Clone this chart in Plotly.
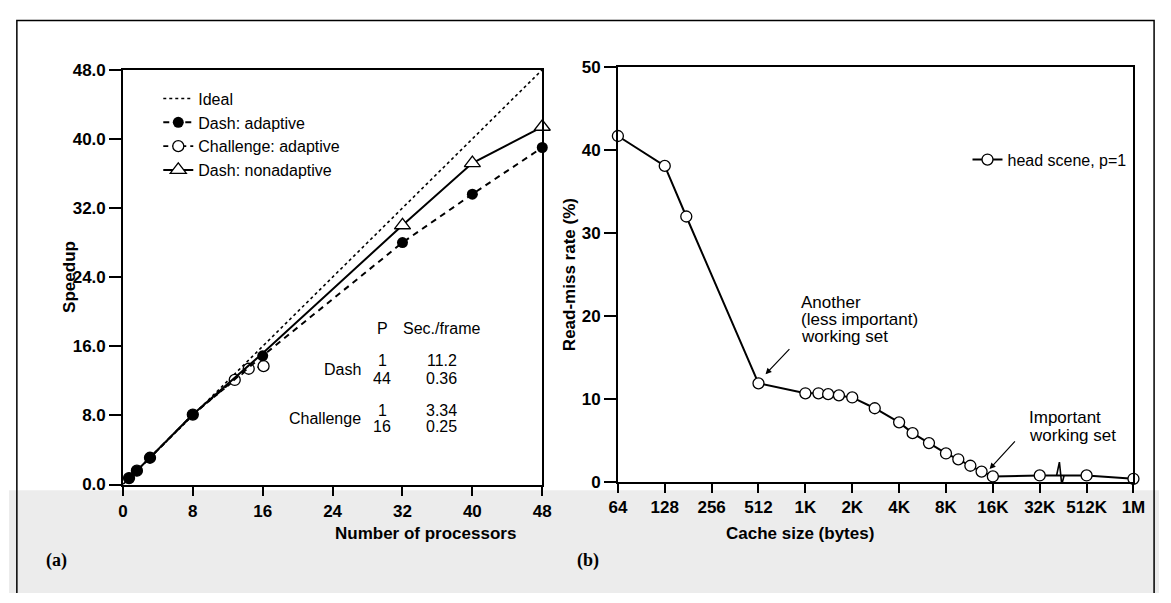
import math
import plotly.graph_objects as go

W, H = 1171, 603

# ---------------- data: (a) speedup ----------------
ideal_p = [0, 48]
ideal_s = [0, 48]

dash_adapt_p = [0.7, 1.6, 3.1, 8, 16, 32, 40, 48]
dash_adapt_s = [0.75, 1.6, 3.1, 8.1, 14.9, 28.0, 33.6, 39.0]

chal_adapt_p = [0.7, 1.6, 3.1, 8, 12.8, 14.4, 16.1]
chal_adapt_s = [0.75, 1.6, 3.1, 8.1, 12.1, 13.4, 13.7]

nonadapt_p = [1, 8, 16, 32, 40, 48]
nonadapt_s = [1, 8.1, 15.2, 30.0, 37.2, 41.4]
nonadapt_first_marked = 3

x_ticks_a = [0, 8, 16, 24, 32, 40, 48]
y_ticks_a = [0, 8, 16, 24, 32, 40, 48]

table_rows = ["Dash", "Challenge"]
table_p = [["1", "44"], ["1", "16"]]
table_sec = [["11.2", "0.36"], ["3.34", "0.25"]]

# ---------------- data: (b) read-miss rate ----------------
cache_bytes = [64, 128, 176, 512, 1024, 1243, 1434, 1682, 2048, 2857, 4096,
               5000, 6370, 8192, 9830, 11750, 13870, 16384, 32768, 524288, 1048576]
miss_rate = [41.7, 38.1, 32.0, 11.9, 10.7, 10.7, 10.6, 10.45, 10.2, 8.9, 7.2,
             5.9, 4.7, 3.45, 2.75, 1.97, 1.27, 0.68, 0.8, 0.8, 0.4]

tick_bytes_b = [64, 128, 256, 512, 1024, 2048, 4096, 8192, 16384, 32768, 524288, 1048576]
tick_labels_b = ["64", "128", "256", "512", "1K", "2K", "4K", "8K", "16K", "32K", "512K", "1M"]
y_ticks_b = [0, 10, 20, 30, 40, 50]


def axis_pos(b):
    # log2 scale with a break between 32K and 512K (64K..256K omitted)
    l = math.log2(b / 64)
    return l if b <= 32768 else l - 3


def px(x):
    return x / W


def py(y):
    return 1 - y / H


FONT = "Liberation Sans"
fig = go.Figure()

# ---- (a) traces ----
fig.add_trace(go.Scatter(x=ideal_p, y=ideal_s, mode="lines", name="Ideal",
                         line=dict(color="black", width=1.6, dash="dot"),
                         xaxis="x", yaxis="y", legend="legend", legendrank=1))
fig.add_trace(go.Scatter(x=chal_adapt_p, y=chal_adapt_s, mode="lines+markers",
                         name="Challenge: adaptive",
                         line=dict(color="black", width=1.6, dash="5px,4px"),
                         marker=dict(symbol="circle", size=11, color="white",
                                     line=dict(color="black", width=1.3)),
                         cliponaxis=False, xaxis="x", yaxis="y",
                         legend="legend", legendrank=3))
fig.add_trace(go.Scatter(x=dash_adapt_p, y=dash_adapt_s, mode="lines+markers",
                         name="Dash: adaptive",
                         line=dict(color="black", width=2, dash="6px,5px"),
                         marker=dict(symbol="circle", size=11, color="black"),
                         cliponaxis=False, xaxis="x", yaxis="y",
                         legend="legend", legendrank=2))
fig.add_trace(go.Scatter(x=nonadapt_p[:nonadapt_first_marked + 1],
                         y=nonadapt_s[:nonadapt_first_marked + 1], mode="lines",
                         line=dict(color="black", width=2), showlegend=False,
                         xaxis="x", yaxis="y"))
fig.add_trace(go.Scatter(x=nonadapt_p[nonadapt_first_marked:],
                         y=nonadapt_s[nonadapt_first_marked:], mode="lines+markers",
                         name="Dash: nonadaptive",
                         line=dict(color="black", width=2),
                         marker=dict(symbol="triangle-up", size=14, color="white",
                                     line=dict(color="black", width=1.3)),
                         cliponaxis=False, xaxis="x", yaxis="y",
                         legend="legend", legendrank=4))

# ---- (b) trace ----
fig.add_trace(go.Scatter(x=[axis_pos(b) for b in cache_bytes], y=miss_rate,
                         mode="lines+markers", name="head scene, p=1",
                         line=dict(color="black", width=2),
                         marker=dict(symbol="circle", size=11, color="white",
                                     line=dict(color="black", width=1.3)),
                         cliponaxis=False, xaxis="x2", yaxis="y2", legend="legend2"))

tickfont = dict(family=FONT, size=17, color="black", weight="bold")
common_axis = dict(ticks="outside", tickwidth=1.5, tickcolor="black",
                   linewidth=1.5, linecolor="black", mirror=True,
                   showgrid=False, zeroline=False, tickfont=tickfont)

annotations = []
txt = dict(family=FONT, size=16, color="black")
txt_b = dict(family=FONT, size=17, color="black")

# table in (a)
annotations.append(dict(x=29.7, y=18.0, xref="x", yref="y", text="P",
                        showarrow=False, font=txt))
annotations.append(dict(x=36.5, y=18.0, xref="x", yref="y", text="Sec./frame",
                        showarrow=False, font=txt))
row_y = [(14.3, 12.3), (8.6, 6.7)]
for i, name in enumerate(table_rows):
    y1, y2 = row_y[i]
    annotations.append(dict(x=27.5, y=(y1 + y2) / 2, xref="x", yref="y", text=name,
                            xanchor="right", showarrow=False, font=txt))
    for j, yy in enumerate((y1, y2)):
        annotations.append(dict(x=29.7, y=yy, xref="x", yref="y", text=table_p[i][j],
                                showarrow=False, font=txt))
        annotations.append(dict(x=36.5, y=yy, xref="x", yref="y", text=table_sec[i][j],
                                showarrow=False, font=txt))

# (b) annotations
for t, yy in zip(["Another", "(less important)", "working set"], [21.6, 19.6, 17.55]):
    annotations.append(dict(x=3.86, y=yy, xref="x2", yref="y2", text=t,
                            xanchor="left", showarrow=False, font=txt_b))
annotations.append(dict(x=3.15, y=13.0, ax=3.69, ay=16.2, xref="x2", yref="y2",
                        axref="x2", ayref="y2", text="", showarrow=True,
                        arrowhead=2, arrowsize=1, arrowwidth=1.2, arrowcolor="black"))
for t, yy in zip(["Important", "working set"], [7.8, 5.66]):
    annotations.append(dict(x=8.73, y=yy, xref="x2", yref="y2", text=t,
                            xanchor="left", showarrow=False, font=txt_b))
annotations.append(dict(x=7.93, y=1.57, ax=8.5, ay=5.1, xref="x2", yref="y2",
                        axref="x2", ayref="y2", text="", showarrow=True,
                        arrowhead=2, arrowsize=1, arrowwidth=1.2, arrowcolor="black"))

# axis titles
title_font = dict(family=FONT, size=17, color="black", weight="bold")
annotations.append(dict(x=px(50), y=py(277), xref="paper", yref="paper", text="Speedup",
                        textangle=-90, showarrow=False, font=title_font))
annotations.append(dict(x=px(330), y=py(553), xref="paper", yref="paper",
                        text="Number of processors", showarrow=False, font=title_font))
annotations.append(dict(x=px(571), y=py(274), xref="paper", yref="paper",
                        text="Read-miss rate (%)", textangle=-90, showarrow=False,
                        font=title_font))
annotations.append(dict(x=px(883), y=py(553), xref="paper", yref="paper",
                        text="Cache size (bytes)", showarrow=False, font=title_font))
panel_font = dict(family="Liberation Serif", size=18, color="black", weight="bold")
annotations.append(dict(x=px(36), y=py(582), xref="paper", yref="paper", text="(a)",
                        xanchor="left", showarrow=False, font=panel_font))
annotations.append(dict(x=px(576), y=py(582), xref="paper", yref="paper", text="(b)",
                        xanchor="left", showarrow=False, font=panel_font))

shapes = [
    dict(type="rect", xref="paper", yref="paper", x0=0, x1=1, y0=0, y1=py(497),
         fillcolor="#ececec", line=dict(width=0), layer="below"),
    dict(type="path", xref="paper", yref="paper",
         path=f"M {px(8)},{py(603)} L {px(8)},{py(12)} L {px(1166)},{py(12)} L {px(1166)},{py(603)}",
         line=dict(color="black", width=1.5)),
    # axis-break zigzag on the (b) curve between 32K and 512K
    dict(type="path", xref="x2", yref="y2",
         path="M 9.36,0.8 L 9.42,2.4 L 9.47,-0.3 L 9.52,0.8",
         line=dict(color="black", width=1.6)),
]

fig.update_layout(
    width=W, height=H, margin=dict(l=0, r=0, t=0, b=0),
    paper_bgcolor="white", plot_bgcolor="white",
    xaxis=dict(domain=[px(116), px(543)], range=[0, 48], tickvals=x_ticks_a,
               ticklen=10, ticklabelstandoff=0, anchor="y", **common_axis),
    yaxis=dict(domain=[py(491), py(62.7)], range=[0, 48], tickvals=y_ticks_a,
               tickformat=".1f", ticklen=12, anchor="x", **common_axis),
    xaxis2=dict(domain=[px(620), px(1145)], range=[0, 11],
                tickvals=[axis_pos(b) for b in tick_bytes_b], ticktext=tick_labels_b,
                ticklen=9, ticklabelstandoff=0, anchor="y2", **common_axis),
    yaxis2=dict(domain=[py(488.5), py(60)], range=[0, 50], tickvals=y_ticks_b,
                ticklen=12, anchor="x2", **common_axis),
    legend=dict(x=px(152), y=py(75), xanchor="left", yanchor="top",
                font=dict(family=FONT, size=16, color="black"),
                bgcolor="rgba(0,0,0,0)", tracegroupgap=0, itemwidth=30),
    legend2=dict(x=px(976), y=py(138), xanchor="left", yanchor="top",
                 font=dict(family=FONT, size=16, color="black"),
                 bgcolor="rgba(0,0,0,0)", itemwidth=30),
    annotations=annotations,
    shapes=shapes,
    showlegend=True,
)

fig.write_html("out.html", config={"displayModeBar": False},
               post_script="document.body.style.margin='0px';document.body.style.overflow='hidden';")
